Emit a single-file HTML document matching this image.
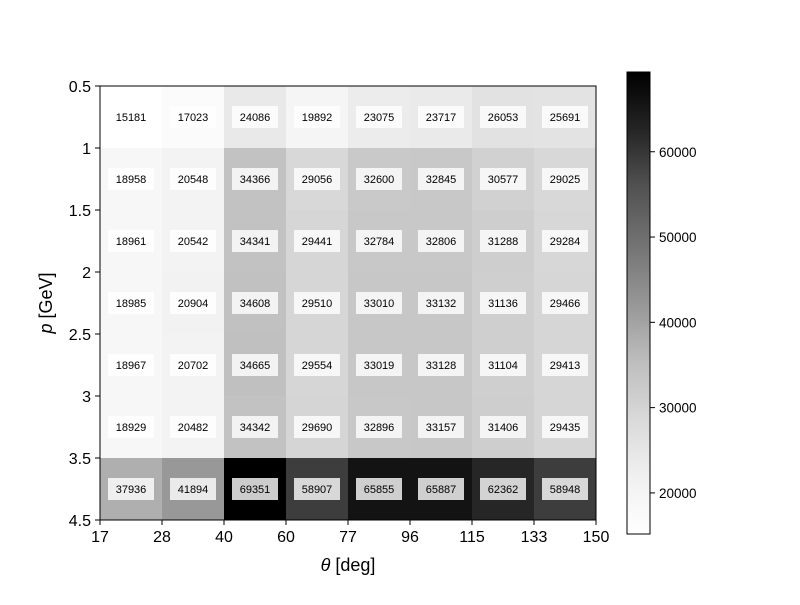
<!DOCTYPE html>
<html><head><meta charset="utf-8"><style>
body{margin:0;background:#fff;font-family:"Liberation Sans","DejaVu Sans",sans-serif}
</style></head><body>
<svg id="chart" width="800" height="600" xmlns="http://www.w3.org/2000/svg">
<g id="cells"></g>
<g id="axes"></g>
<g id="cbar"></g>
</svg>
<script>
const xTickLabels=["17","28","40","60","77","96","115","133","150"];
const yTickLabels=["0.5","1","1.5","2","2.5","3","3.5","4.5"];
const row0=[15181,17023,24086,19892,23075,23717,26053,25691];
const row1=[18958,20548,34366,29056,32600,32845,30577,29025];
const row2=[18961,20542,34341,29441,32784,32806,31288,29284];
const row3=[18985,20904,34608,29510,33010,33132,31136,29466];
const row4=[18967,20702,34665,29554,33019,33128,31104,29413];
const row5=[18929,20482,34342,29690,32896,33157,31406,29435];
const row6=[37936,41894,69351,58907,65855,65887,62362,58948];
const rows=[row0,row1,row2,row3,row4,row5,row6];
const cbTicks=[20000,30000,40000,50000,60000];

const NS="http://www.w3.org/2000/svg";
const L=100,R=596,T=86,B=520;
const nc=8,nr=7,cw=(R-L)/nc,rh=(B-T)/nr;
const all=rows.flat();const vmin=Math.min(...all),vmax=Math.max(...all);
const greys=[1,0.941,0.851,0.741,0.588,0.451,0.322,0.145,0];
function greyAt(t){t=Math.max(0,Math.min(1,t));const p=t*8,i=Math.min(7,Math.floor(p)),f=p-i;return Math.round(255*(greys[i]+(greys[i+1]-greys[i])*f));}
function xPos(i){return L+i*cw;}
function yPos(j){return T+j*rh;}
function gray(v){const g=greyAt((v-vmin)/(vmax-vmin));return `rgb(${g},${g},${g})`;}
function mk(tag,attrs,parent,text){const e=document.createElementNS(NS,tag);for(const k in attrs)e.setAttribute(k,attrs[k]);if(text!==undefined)e.textContent=text;parent.appendChild(e);return e;}
const cells=document.getElementById('cells');
rows.forEach((r,j)=>r.forEach((v,i)=>{
  const c=mk('rect',{x:xPos(i),y:yPos(j),width:cw+0.5,height:rh+0.5,fill:gray(v)},cells);
  
  
  const cx=xPos(i)+cw/2,cy=yPos(j)+rh/2;
  const bx=mk('rect',{x:cx-23,y:cy-11,width:46,height:22,fill:'#fff','fill-opacity':0.8},cells);
  
  
  const t=mk('text',{x:cx,y:cy+4,'text-anchor':'middle','font-size':11,fill:'#000'},cells,String(v));
  
  
}));
const ax=document.getElementById('axes');
mk('rect',{x:L,y:T,width:R-L,height:B-T,fill:'none',stroke:'#000','stroke-width':1},ax);
xTickLabels.forEach((s,i)=>{const x=xPos(i);
  mk('line',{x1:x,y1:B,x2:x,y2:B+5,stroke:'#000'},ax);
  const t=mk('text',{x:x,y:B+22,'text-anchor':'middle','font-size':16},ax,s);
  
  });
yTickLabels.forEach((s,j)=>{const y=j<7?yPos(j):B;
  mk('line',{x1:L-5,y1:y,x2:L,y2:y,stroke:'#000'},ax);
  const t=mk('text',{x:L-9,y:y+6,'text-anchor':'end','font-size':16},ax,s);
  
  });
const xt=mk('text',{x:348,y:571,'text-anchor':'middle','font-size':18},ax);
xt.innerHTML='<tspan font-style="italic">θ</tspan> [deg]';


const yt=mk('text',{x:0,y:0,'text-anchor':'middle','font-size':18,transform:'translate(52,303) rotate(-90)'},ax);
yt.innerHTML='<tspan font-style="italic">p</tspan> [GeV]';


const cb=document.getElementById('cbar');
const CL=627,CW=23,CT=72,CB=534;
const defs=mk('defs',{},cb);const gr=mk('linearGradient',{id:'cg',x1:0,y1:1,x2:0,y2:0},defs);
for(let k=0;k<=8;k++){const g=Math.round(255*greys[k]);mk('stop',{offset:k/8,'stop-color':`rgb(${g},${g},${g})`},gr);}
mk('rect',{x:CL,y:CT,width:CW,height:CB-CT,fill:'url(#cg)',stroke:'#000','stroke-width':1},cb);
function cbY(v){return CB-(v-vmin)/(vmax-vmin)*(CB-CT);}
cbTicks.forEach(v=>{const y=cbY(v);
  mk('line',{x1:CL+CW,y1:y,x2:CL+CW+5,y2:y,stroke:'#000'},cb);
  const t=mk('text',{x:CL+CW+9,y:y+5,'font-size':13.5},cb,String(v));
  
  });
</script>
</body></html>
